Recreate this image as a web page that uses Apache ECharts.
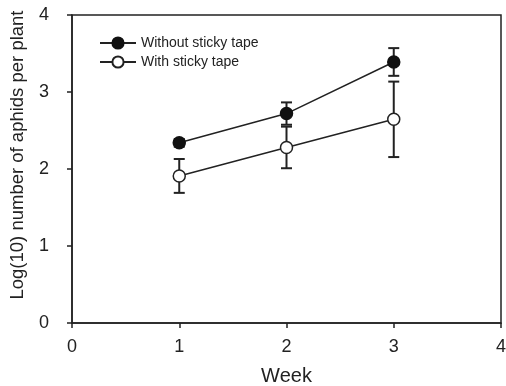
<!DOCTYPE html>
<html>
<head>
<meta charset="utf-8">
<script src="https://cdn.jsdelivr.net/npm/echarts@6/dist/echarts.min.js"></script>
<style>
  html, body { margin: 0; padding: 0; background: #fff; }
  #chart { width: 506px; height: 386px; }
</style>
</head>
<body>
<div id="chart"></div>
<script>
  // data
  var weeks = [1, 2, 3];
  var withoutMean = [2.34, 2.72, 3.39];
  var withoutErr = [0.05, 0.145, 0.18];
  var withMean = [1.91, 2.28, 2.645];
  var withErr = [0.22, 0.27, 0.49];
  var seriesNames = ['Without sticky tape', 'With sticky tape'];

  var font = 'Liberation Sans, Arial, sans-serif';

  function pairs(xs, ys) {
    return xs.map(function (x, i) { return [x, ys[i]]; });
  }
  function errData(xs, ys, es) {
    return xs.map(function (x, i) { return [x, ys[i] - es[i], ys[i] + es[i]]; });
  }

  // error bars with caps
  function renderErr(params, api) {
    var lo = api.coord([api.value(0), api.value(1)]);
    var hi = api.coord([api.value(0), api.value(2)]);
    var w = 5.5;
    var st = { stroke: '#222', lineWidth: 2 };
    return {
      type: 'group',
      children: [
        { type: 'line', shape: { x1: lo[0], y1: lo[1], x2: hi[0], y2: hi[1] }, style: st },
        { type: 'line', shape: { x1: lo[0] - w, y1: lo[1], x2: lo[0] + w, y2: lo[1] }, style: st },
        { type: 'line', shape: { x1: hi[0] - w, y1: hi[1], x2: hi[0] + w, y2: hi[1] }, style: st }
      ]
    };
  }

  var myChart = echarts.init(document.getElementById('chart'));
  var option = {
    animation: false,
    backgroundColor: '#fff',
    textStyle: { fontFamily: font, color: '#222' },
    grid: {
      left: 72, right: 5, top: 15, bottom: 63,
      outerBoundsMode: 'none', containLabel: false,
      show: true, borderColor: '#222', borderWidth: 1.5
    },
    legend: {
      left: 99, top: 36,
      orient: 'vertical',
      padding: 0,
      itemGap: 5,
      itemWidth: 36, itemHeight: 14,
      textStyle: { fontSize: 14, color: '#222', fontFamily: font },
      data: seriesNames
    },
    xAxis: {
      type: 'value', min: 0, max: 4, interval: 1,
      name: 'Week', nameLocation: 'middle', nameGap: 43,
      nameTextStyle: { fontSize: 20, color: '#222', fontFamily: font },
      axisLine: { show: true, onZero: false, lineStyle: { color: '#222', width: 1.5 } },
      axisTick: { show: true, length: 5, lineStyle: { color: '#222', width: 1.5 } },
      axisLabel: { fontSize: 18, color: '#222', margin: 15 },
      splitLine: { show: false }
    },
    yAxis: {
      type: 'value', min: 0, max: 4, interval: 1,
      name: 'Log(10) number of aphids per plant', nameLocation: 'middle', nameGap: 45,
      nameTextStyle: { fontSize: 18.5, color: '#222', fontFamily: font, padding: [0, 0, 0, 28] },
      axisLine: { show: true, lineStyle: { color: '#222', width: 1.5 } },
      axisTick: { show: true, length: 5, lineStyle: { color: '#222', width: 1.5 } },
      axisLabel: { fontSize: 18, color: '#222', margin: 23 },
      splitLine: { show: false }
    },
    series: [
      {
        type: 'custom', renderItem: renderErr, z: 1,
        encode: { x: 0, y: [1, 2] },
        data: errData(weeks, withoutMean, withoutErr)
      },
      {
        type: 'custom', renderItem: renderErr, z: 1,
        encode: { x: 0, y: [1, 2] },
        data: errData(weeks, withMean, withErr)
      },
      {
        name: seriesNames[0], type: 'line', z: 3,
        symbol: 'circle', symbolSize: 12,
        lineStyle: { color: '#222', width: 1.5 },
        itemStyle: { color: '#111', borderColor: '#111', borderWidth: 1.5 },
        data: pairs(weeks, withoutMean)
      },
      {
        name: seriesNames[1], type: 'line', z: 3,
        symbol: 'circle', symbolSize: 12,
        lineStyle: { color: '#222', width: 1.5 },
        itemStyle: { color: '#fff', borderColor: '#222', borderWidth: 1.5 },
        data: pairs(weeks, withMean)
      }
    ]
  };
  myChart.setOption(option);
</script>
</body>
</html>
